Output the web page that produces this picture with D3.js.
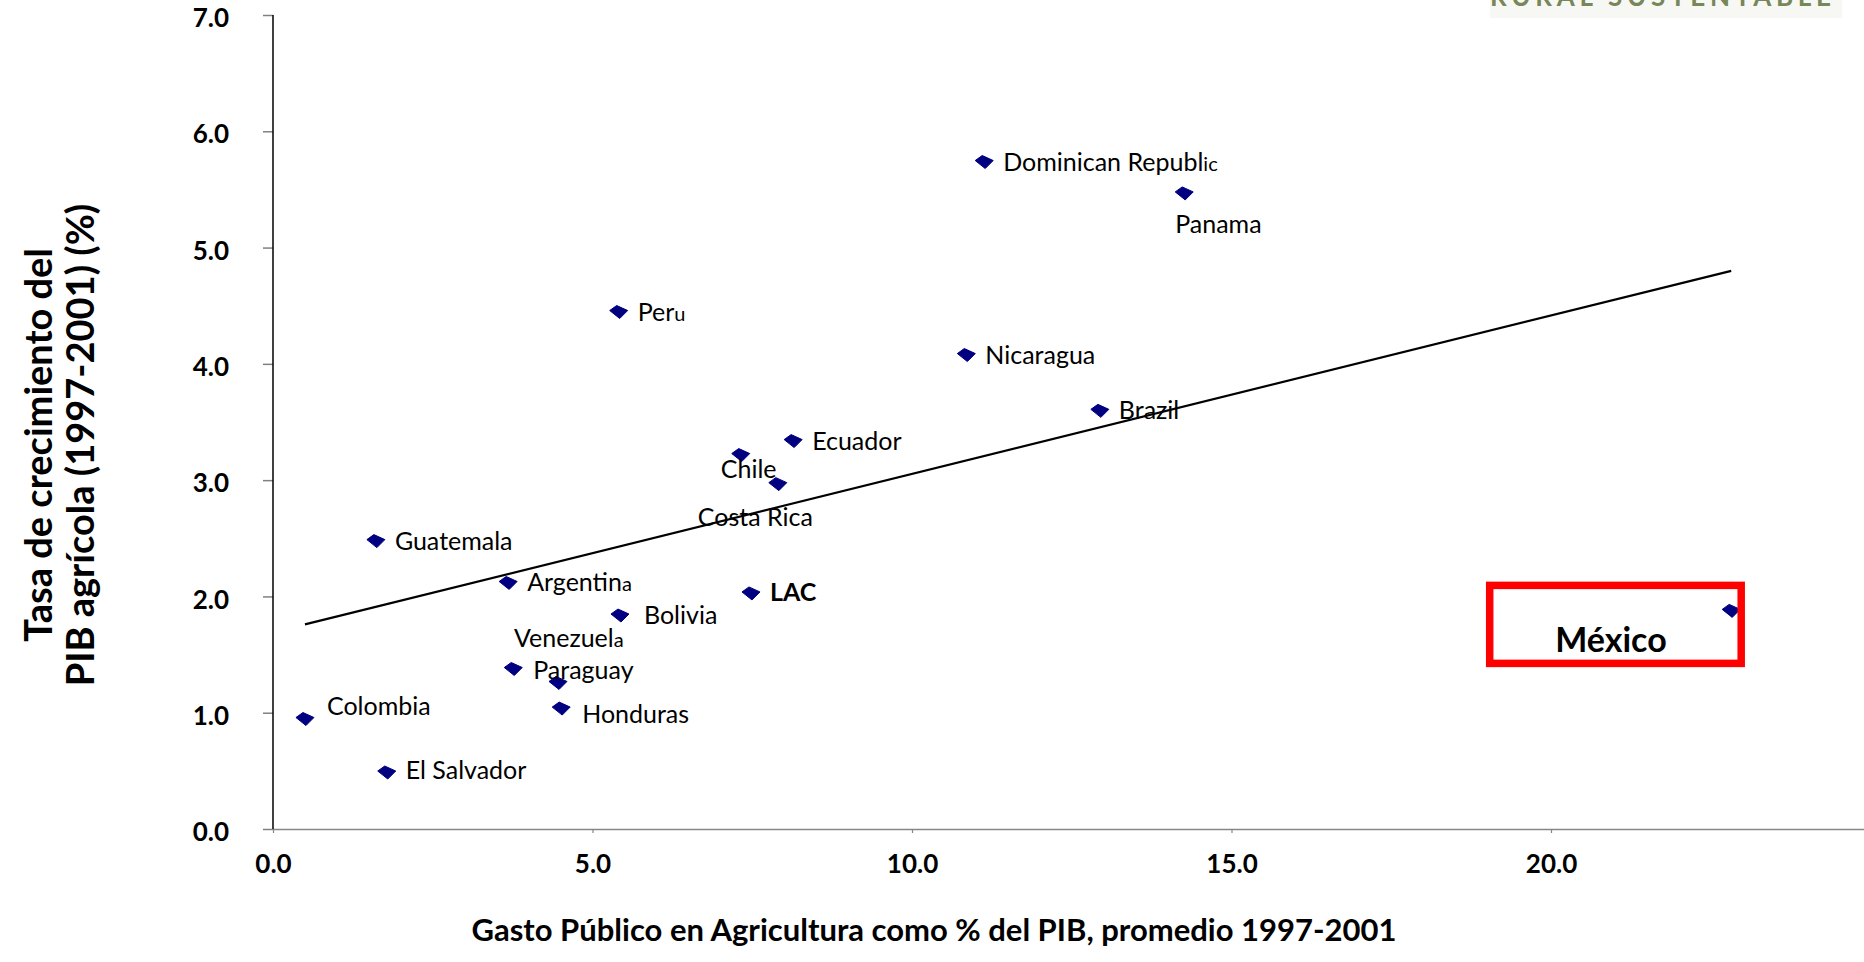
<!DOCTYPE html>
<html><head><meta charset="utf-8">
<script src="https://cdn.jsdelivr.net/npm/d3@7"></script>
<style>
body{margin:0;background:#fff;overflow:hidden;}
svg{display:block;}
</style>
</head><body>
<script>
// ---------------- data ----------------
const countries = ["Colombia","El Salvador","Guatemala","Argentina","Paraguay","Venezuela","Honduras","Bolivia","Peru","Chile","LAC","Costa Rica","Ecuador","Nicaragua","Dominican Republic","Brazil","Panama","México"];
const gastoPct = [0.50,1.78,1.61,3.68,3.76,4.46,4.51,5.43,5.41,7.32,7.48,7.90,8.14,10.85,11.13,12.94,14.26,22.82];
const crecimientoPct = [0.95,0.49,2.48,2.12,1.38,1.26,1.04,1.84,4.45,3.22,2.03,2.97,3.34,4.08,5.74,3.60,5.47,1.88];
const xTicks = [0,5,10,15,20];
const yTicks = [0,1,2,3,4,5,6,7];
const trendX = [0.50, 22.82];
const trendY = [1.76, 4.80];
const xTitle = "Gasto Público en Agricultura como % del PIB, promedio 1997-2001";
const yTitle = ["Tasa de crecimiento del", "PIB agrícola (1997-2001) (%)"];
const highlight = "México";
const logoText = "RURAL SUSTENTABLE";

// ---------------- layout ----------------
const W = 1864, H = 962;
const FONT = "Lato, 'Open Sans', sans-serif";
const x = d3.scaleLinear().domain([0,25]).range([273, 1870.5]);
const y = d3.scaleLinear().domain([0,7]).range([829, 15]);

// label offsets (px) relative to marker centre: [dx to text start, dy to baseline]
const labelOffset = {
  "Colombia":[22,-4], "El Salvador":[19,7], "Honduras":[21,15], "Bolivia":[24,9],
  "Chile":[-20,23], "Costa Rica":[-80,42], "Panama":[-9,40], "Venezuela":[-44,-35],
  "Paraguay":[20,10], "LAC":[19,8]
};
const smallTail = {"Peru":1, "Argentina":1, "Venezuela":1, "Dominican Republic":2};

const svg = d3.select("body").append("svg").attr("width", W).attr("height", H)
  .style("font-family", FONT);

// logo remnant at top right (cropped in the original)
svg.append("rect").attr("x",1490).attr("y",0).attr("width",352).attr("height",18).attr("fill","#f7f8f4");
svg.append("text").attr("x",1490).attr("y",6)
  .attr("textLength",341).attr("lengthAdjust","spacing")
  .attr("font-size",26).attr("font-weight",700).attr("fill","#77875a")
  .text(logoText);

// ---------------- axes ----------------
const gy = svg.append("g").attr("transform", `translate(${x(0)},0)`)
  .call(d3.axisLeft(y).tickValues(yTicks).tickFormat(d3.format(".1f")).tickSize(10).tickSizeOuter(0).tickPadding(34));
gy.select(".domain").remove();
gy.selectAll(".tick line").attr("stroke","#808080").attr("stroke-width",1.5);
gy.selectAll(".tick text").attr("font-size",26).attr("font-weight",700).attr("fill","#000")
  .attr("font-family",FONT).attr("dy","0.45em");

const gx = svg.append("g").attr("transform", `translate(0,${y(0)})`)
  .call(d3.axisBottom(x).tickValues(xTicks).tickFormat(d3.format(".1f")).tickSize(4).tickSizeOuter(0).tickPadding(22));
gx.select(".domain").attr("stroke","#868686").attr("stroke-width",1.5);
gx.selectAll(".tick line").attr("stroke","#868686").attr("stroke-width",1.2);
gx.selectAll(".tick text").attr("font-size",26).attr("font-weight",700).attr("fill","#000")
  .attr("font-family",FONT);

// y axis line (black)
svg.append("line").attr("x1",x(0)).attr("x2",x(0)).attr("y1",y(7)).attr("y2",y(0))
  .attr("stroke","#000").attr("stroke-width",1.5);

// axis titles
svg.append("text").attr("x", 934).attr("y", 941).attr("text-anchor","middle")
  .attr("font-size",31).attr("font-weight",700).attr("fill","#000").text(xTitle);

const yt = svg.append("g").attr("transform","translate(0,445) rotate(-90)");
yt.selectAll("text").data(yTitle).join("text")
  .attr("x",0).attr("y",(d,i)=> i===0 ? 52 : 94)
  .attr("text-anchor","middle").attr("font-size",38).attr("font-weight",700).attr("fill","#000")
  .text(d=>d);

// ---------------- trend line ----------------
svg.append("line")
  .attr("x1",x(trendX[0])).attr("y1",y(trendY[0]))
  .attr("x2",x(trendX[1])).attr("y2",y(trendY[1]))
  .attr("stroke","#000").attr("stroke-width",2.2);

// ---------------- points ----------------
const pts = countries.map((c,i)=>({name:c, gx:gastoPct[i], gy:crecimientoPct[i]}));
const markerPath = "M-9,-1 L-2,-6 L9,-1 L1,7 Z";

svg.append("g").selectAll("path").data(pts).join("path")
  .attr("d", markerPath)
  .attr("transform", d=>`translate(${x(d.gx)},${y(d.gy)})`)
  .attr("fill","#000080").attr("stroke","#000080").attr("stroke-width",1).attr("stroke-linejoin","round");

// labels
const lbl = svg.append("g").selectAll("text").data(pts.filter(d=>d.name!==highlight)).join("text")
  .attr("x", d=> x(d.gx) + (labelOffset[d.name]||[19,9])[0])
  .attr("y", d=> y(d.gy) + (labelOffset[d.name]||[19,9])[1])
  .attr("font-size",25).attr("fill","#000")
  .attr("font-weight", d=> d.name==="LAC" ? 700 : 400);
lbl.each(function(d){
  const t = d3.select(this);
  const n = smallTail[d.name] || 0;
  t.append("tspan").text(d.name.slice(0, d.name.length - n));
  if (n) t.append("tspan").attr("font-size",20).text(d.name.slice(d.name.length - n));
});

// highlight box for México
const mx = pts.find(d=>d.name===highlight);
const hx = x(mx.gx), hy = y(mx.gy);
svg.append("rect").attr("x",hx-241.5).attr("y",hy-25).attr("width",251.5).attr("height",78)
  .attr("fill","none").attr("stroke","#ff0000").attr("stroke-width",7.5);
svg.append("text").attr("x",hx-176).attr("y",hy+42)
  .attr("font-size",34).attr("font-weight",700).attr("fill","#000").text(highlight);
</script>
</body></html>
